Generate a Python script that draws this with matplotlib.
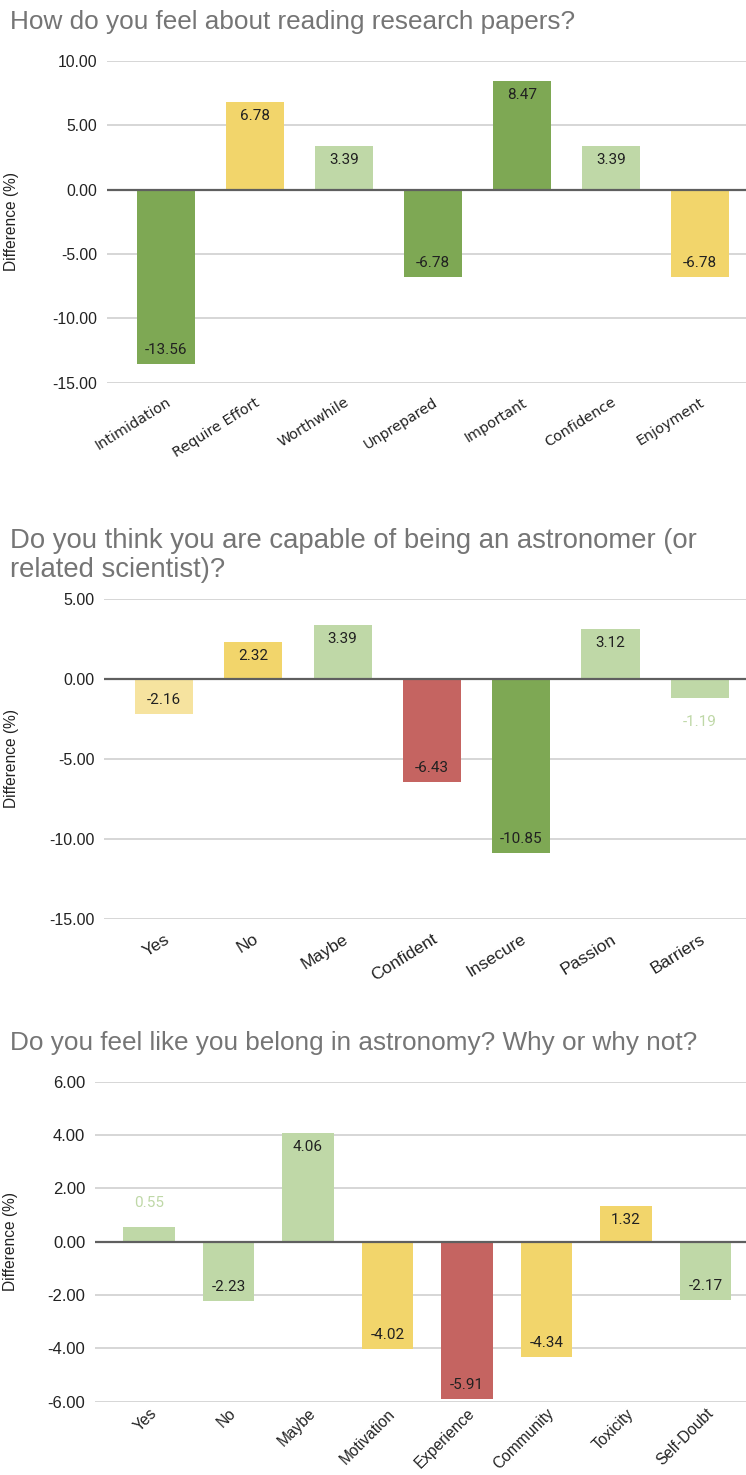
import matplotlib.pyplot as plt
import numpy as np

W, H = 746, 1475

DARK = "#7ea854"
LIGHT = "#bfd8a7"
YEL = "#f2d56b"
PALE = "#f6e39f"
RED = "#c56461"

# chart 1 - reading research papers
q1_title = "How do you feel about reading research papers?"
q1_cats = ["Intimidation", "Require Effort", "Worthwhile", "Unprepared",
           "Important", "Confidence", "Enjoyment"]
q1_vals = [-13.56, 6.78, 3.39, -6.78, 8.47, 3.39, -6.78]
q1_cols = [DARK, YEL, LIGHT, DARK, DARK, LIGHT, YEL]
q1_ticks = [-15, -10, -5, 0, 5, 10]

# chart 2 - capable of being an astronomer
q2_title = "Do you think you are capable of being an astronomer (or\nrelated scientist)?"
q2_cats = ["Yes", "No", "Maybe", "Confident", "Insecure", "Passion", "Barriers"]
q2_vals = [-2.16, 2.32, 3.39, -6.43, -10.85, 3.12, -1.19]
q2_cols = [PALE, YEL, LIGHT, RED, DARK, LIGHT, LIGHT]
q2_ticks = [-15, -10, -5, 0, 5]

# chart 3 - belong in astronomy
q3_title = "Do you feel like you belong in astronomy? Why or why not?"
q3_cats = ["Yes", "No", "Maybe", "Motivation", "Experience", "Community",
           "Toxicity", "Self-Doubt"]
q3_vals = [0.55, -2.23, 4.06, -4.02, -5.91, -4.34, 1.32, -2.17]
q3_cols = [LIGHT, LIGHT, LIGHT, YEL, RED, YEL, YEL, LIGHT]
q3_ticks = [-6, -4, -2, 0, 2, 4, 6]

fig = plt.figure(figsize=(W / 100, H / 100), dpi=100)


def panel(title, title_y, tsize, cats, vals, cols, ticks, box, c0, step,
          xfont, xsize, rot, xpad, ysize):
    left, right, top, bottom = box
    ax = fig.add_axes([left / W, 1 - bottom / H, (right - left) / W, (bottom - top) / H])
    x = np.arange(len(cats))
    ax.bar(x, vals, width=0.65, color=cols, zorder=3)
    ax.set_xlim((left - c0) / step, (right - c0) / step)
    ax.set_ylim(ticks[0], ticks[-1])
    ax.set_yticks(ticks)
    ax.set_yticklabels([f"{t:.2f}" for t in ticks], family="Liberation Sans",
                       fontsize=ysize, color="#222222")
    ax.grid(axis="y", color="#d0d0d0", lw=1.2, zorder=0)
    ax.axhline(0, color="#5f5f5f", lw=1.6, zorder=4)
    for s in ax.spines.values():
        s.set_visible(False)
    ax.tick_params(axis="both", length=0)
    ax.tick_params(axis="y", pad=7)
    ax.set_xticks(x)
    ax.set_xticklabels(cats, rotation=rot, ha="right", va="top", rotation_mode="anchor",
                       family=xfont, fontsize=xsize, color="#222222")
    ax.tick_params(axis="x", pad=xpad)
    ax.set_ylabel("Difference (%)", family="Liberation Sans", fontsize=11.2, color="#222222")
    ax.yaxis.set_label_coords((18.5 - left) / (right - left), 0.5)

    px_per_unit = (bottom - top) / (ticks[-1] - ticks[0])
    for xi, v, c in zip(x, vals, cols):
        sign = 1 if v > 0 else -1
        if abs(v) * px_per_unit > 28:
            off, tc = -14 * sign, "#212121"
        else:
            off, tc = 24 * sign, c
        ax.annotate(f"{v:.2f}", (xi, v), xytext=(0, off), textcoords="offset pixels",
                    ha="center", va="center", family="Roboto", fontsize=11, color=tc, zorder=5)

    fig.text(10 / W, 1 - title_y / H, title, family="Liberation Sans", fontsize=tsize,
             color="#757575", va="baseline", ha="left", linespacing=1.13)
    return ax


panel(q1_title, 29, 18.8, q1_cats, q1_vals, q1_cols, q1_ticks, (107, 746, 61, 382.7), 166, 89,
      "DejaVu Sans", 10.4, 32, 9, 11.3)
panel(q2_title, 577, 19.8, q2_cats, q2_vals, q2_cols, q2_ticks, (104, 746, 599, 919), 164, 89.3,
      "Liberation Sans", 12.5, 32, 9, 11.5)
panel(q3_title, 1050, 18.8, q3_cats, q3_vals, q3_cols, q3_ticks, (95, 746, 1081.7, 1401.7), 149, 79.5,
      "Liberation Sans", 11.2, 45, 3, 12)

fig.savefig("out.png", dpi=100, facecolor="white")
